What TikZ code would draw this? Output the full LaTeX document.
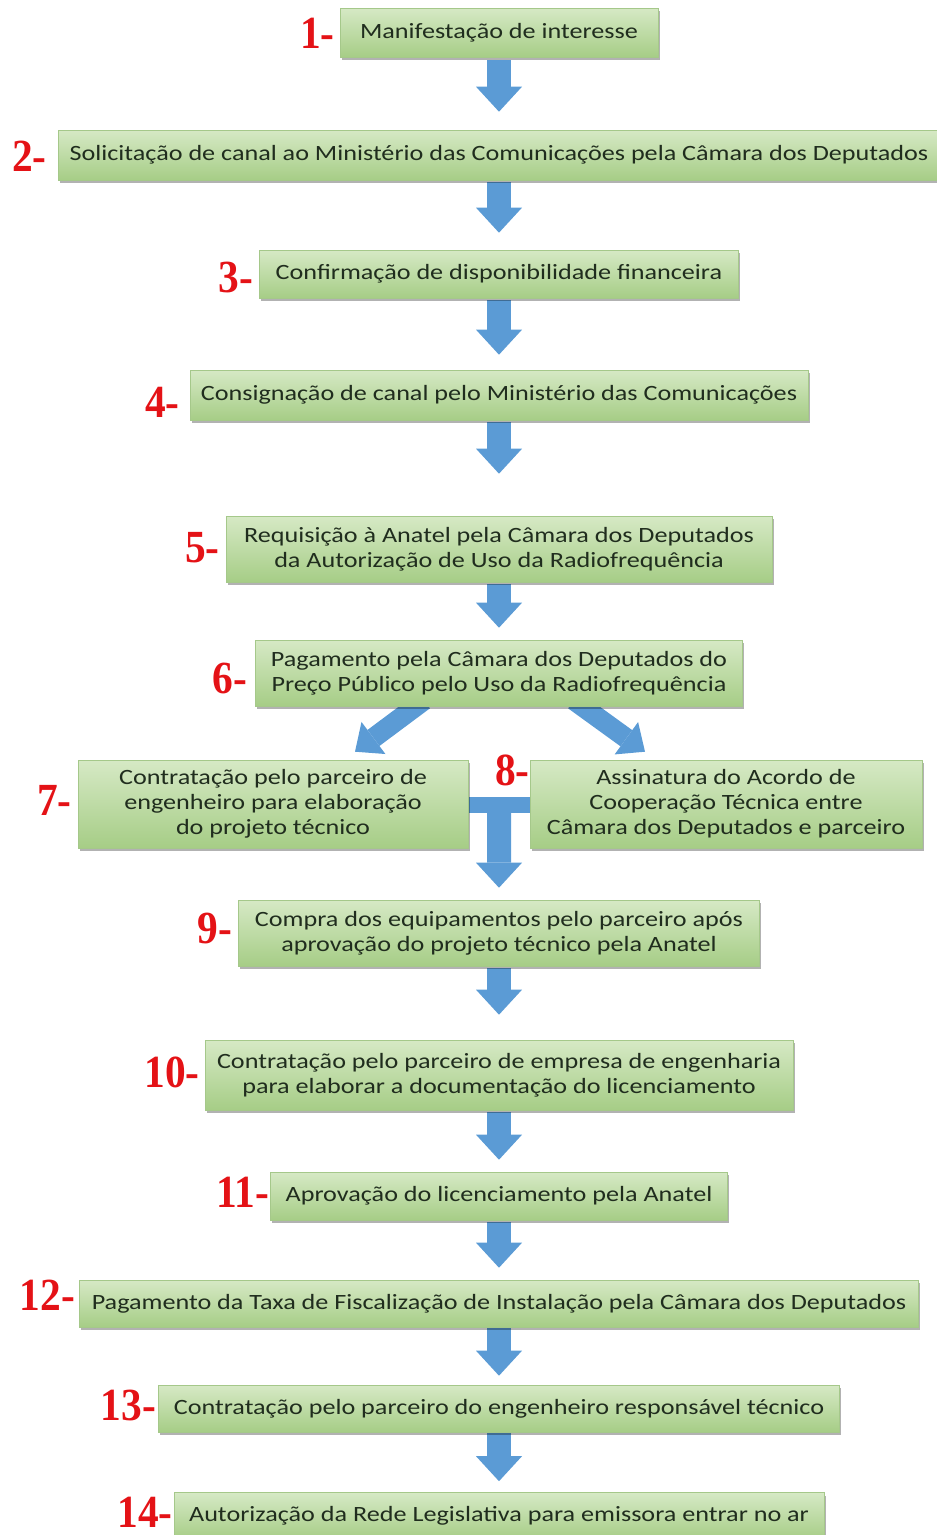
\documentclass[tikz,border=0pt]{standalone}
\usepackage{fontspec}
\usetikzlibrary{arrows.meta,shadows,calc}
\newfontfamily\boxfont[FakeStretch=1.2]{Carlito}
\newfontfamily\numfont{Liberation Serif}
\definecolor{arrowblue}{RGB}{91,155,213}
\definecolor{numred}{RGB}{228,18,22}
\definecolor{boxtext}{RGB}{32,45,30}
\definecolor{gtop}{RGB}{214,233,197}
\definecolor{gbot}{RGB}{166,205,134}
\definecolor{gedge}{RGB}{165,200,138}
\pgfdeclarelayer{background}
\pgfsetlayers{background,main}
\tikzset{
  box/.style={inner sep=0pt, align=center, font=\boxfont\fontsize{21.8}{25}\selectfont,
    text=boxtext, top color=gtop, bottom color=gbot, draw=gedge, line width=0.6pt,
    drop shadow={shadow xshift=1.5pt, shadow yshift=-3pt, fill=black, opacity=0.3}},
  num/.style={inner sep=0pt, anchor=east, text=numred, font=\numfont\bfseries\fontsize{46}{46}\selectfont},
  fat/.style={draw=arrowblue, line width=24pt, -{Triangle[width=46pt,length=25pt,line width=0pt]}},
  diag/.style={draw=arrowblue, line width=20pt, -{Triangle[width=40pt,length=23pt,line width=0pt]}}
}
\newcommand\nm[1]{\scalebox{0.9}[1]{#1}}
\begin{document}
\begin{tikzpicture}[x=1pt,y=-1pt]
\useasboundingbox (0,0) rectangle (937,1535);
\node[box, minimum width=318, minimum height=49] (b1) at (499,32.5) {Manifestação de interesse};
\node[box, minimum width=882, minimum height=50] (b2) at (499,155) {Solicitação de canal ao Ministério das Comunicações pela Câmara dos Deputados};
\node[box, minimum width=479, minimum height=48] (b3) at (499,274) {Confirmação de disponibilidade financeira};
\node[box, minimum width=618, minimum height=50] (b4) at (499,395) {Consignação de canal pelo Ministério das Comunicações};
\node[box, minimum width=546, minimum height=66] (b5) at (499,549) {Requisição à Anatel pela Câmara dos Deputados\\da Autorização de Uso da Radiofrequência};
\node[box, minimum width=487, minimum height=66] (b6) at (499,673) {Pagamento pela Câmara dos Deputados do\\Preço Público pelo Uso da Radiofrequência};
\node[box, minimum width=390, minimum height=88] (b7) at (273,804) {Contratação pelo parceiro de\\engenheiro para elaboração\\do projeto técnico};
\node[box, minimum width=392, minimum height=88] (b8) at (726,804) {Assinatura do Acordo de\\Cooperação Técnica entre\\Câmara dos Deputados e parceiro};
\node[box, minimum width=521, minimum height=66] (b9) at (499,933) {Compra dos equipamentos pelo parceiro após\\aprovação do projeto técnico pela Anatel};
\node[box, minimum width=588, minimum height=70] (b10) at (499,1075) {Contratação pelo parceiro de empresa de engenharia\\para elaborar a documentação do licenciamento};
\node[box, minimum width=457, minimum height=48] (b11) at (499,1196) {Aprovação do licenciamento pela Anatel};
\node[box, minimum width=839, minimum height=47] (b12) at (499,1303.5) {Pagamento da Taxa de Fiscalização de Instalação pela Câmara dos Deputados};
\node[box, minimum width=681, minimum height=47] (b13) at (499,1408.5) {Contratação pelo parceiro do engenheiro responsável técnico};
\node[box, minimum width=650, minimum height=47] (b14) at (499,1516) {Autorização da Rede Legislativa para emissora entrar no ar};
% labels
\node[num] (n1) at ([xshift=-5pt,yshift=-1pt]b1.west) {\nm{1-}};
\node[num] (n2) at ([xshift=-11pt,yshift=-1pt]b2.west) {\nm{2-}};
\node[num] (n3) at ([xshift=-6pt,yshift=-3pt]b3.west) {\nm{3-}};
\node[num] (n4) at ([xshift=-10pt,yshift=-7pt]b4.west) {\nm{4-}};
\node[num] (n5) at ([xshift=-6pt,yshift=1pt]b5.west) {\nm{5-}};
\node[num] (n6) at ([xshift=-8pt,yshift=-5pt]b6.west) {\nm{6-}};
\node[num] (n7) at ([xshift=-6pt,yshift=4pt]b7.west) {\nm{7-}};
\node[num] (n8) at ([yshift=34pt]b8.west) {\nm{8-}};
\node[num] (n9) at ([xshift=-6pt,yshift=5pt]b9.west) {\nm{9-}};
\node[num] (n10) at ([xshift=-5pt,yshift=3pt]b10.west) {\nm{10-}};
\node[num] (n11) at ([xshift=-1pt,yshift=4pt]b11.west) {\nm{11-}};
\node[num] (n12) at ([xshift=-4pt,yshift=8pt]b12.west) {\nm{12-}};
\node[num] (n13) at ([xshift=-2pt,yshift=3pt]b13.west) {\nm{13-}};
\node[num] (n14) at ([xshift=-1pt,yshift=4pt]b14.west) {\nm{14-}};
\begin{pgfonlayer}{background}
\draw[fat] ([yshift=-3pt]b1.south) -- ([yshift=18pt]b2.north);
\draw[fat] ([yshift=-2pt]b2.south) -- ([yshift=17pt]b3.north);
\draw[fat] ([yshift=-2pt]b3.south) -- ([yshift=15pt]b4.north);
\draw[fat] ([yshift=-2pt]b4.south) -- ([yshift=42pt]b5.north);
\draw[fat] ([yshift=-2pt]b5.south) -- ([yshift=12pt]b6.north);
\draw[diag] ([xshift=-75pt,yshift=6pt]b6.south) -- ([xshift=82pt,yshift=8pt]b7.north);
\draw[diag] ([xshift=75pt,yshift=6pt]b6.south) -- ([xshift=-81pt,yshift=8pt]b8.north);
\fill[arrowblue] ([yshift=7pt]b7.east) rectangle ([yshift=-9pt]b8.west);
\coordinate (j) at ($(b7.east)!0.5!(b8.west)+(0,-1)$);
\draw[fat] (j) -- ([yshift=12pt]b9.north);
\draw[fat] ([yshift=-2pt]b9.south) -- ([yshift=25pt]b10.north);
\draw[fat] ([yshift=-2pt]b10.south) -- ([yshift=12pt]b11.north);
\draw[fat] ([yshift=-2pt]b11.south) -- ([yshift=12pt]b12.north);
\draw[fat] ([yshift=-1pt]b12.south) -- ([yshift=9pt]b13.north);
\draw[fat] ([yshift=-1pt]b13.south) -- ([yshift=11pt]b14.north);
\end{pgfonlayer}
\end{tikzpicture}
\end{document}
